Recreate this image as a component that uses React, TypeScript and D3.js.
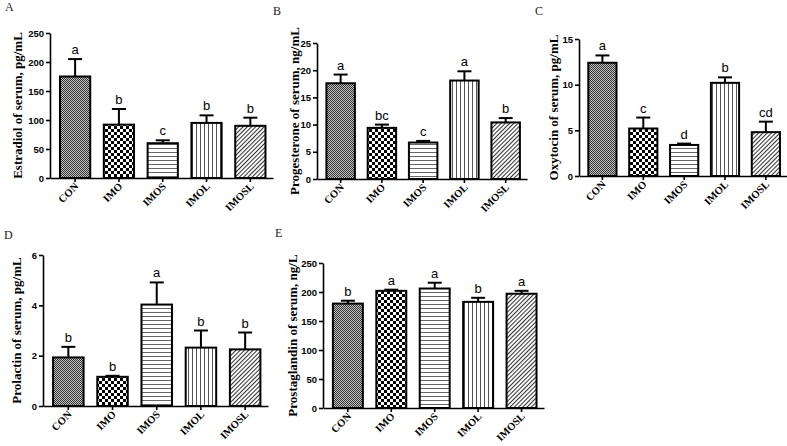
import { useEffect, useRef } from 'react';
import * as d3 from 'd3';

const groups = ['CON', 'IMO', 'IMOS', 'IMOL', 'IMOSL'];

const estradiol = [175, 92, 60, 95, 90];
const estradiolErr = [30, 27, 5, 13, 14];
const estradiolSig = ['a', 'b', 'c', 'b', 'b'];

const progesterone = [17.6, 9.4, 6.7, 18.1, 10.4];
const progesteroneErr = [1.6, 0.6, 0.3, 1.7, 0.8];
const progesteroneSig = ['a', 'bc', 'c', 'a', 'b'];

const oxytocin = [12.4, 5.2, 3.4, 10.2, 4.8];
const oxytocinErr = [0.8, 1.2, 0.15, 0.6, 1.15];
const oxytocinSig = ['a', 'c', 'd', 'b', 'cd'];

const prolactin = [1.93, 1.16, 4.03, 2.32, 2.25];
const prolactinErr = [0.42, 0.04, 0.88, 0.68, 0.67];
const prolactinSig = ['b', 'b', 'a', 'b', 'b'];

const prostaglandin = [180, 202, 206, 183, 197];
const prostaglandinErr = [5, 2, 10, 7, 5];
const prostaglandinSig = ['b', 'a', 'a', 'b', 'a'];

interface Panel {
  letter: string;
  title: string;
  values: number[];
  errs: number[];
  sig: string[];
  yMax: number;
  yStep: number;
  // layout
  x0: number; x1: number; yBottom: number; yTop: number;
  lx: number; ly: number; tx: number;
}

const panels: Panel[] = [
  { letter: 'A', title: 'Estradiol of serum, pg/mL', values: estradiol, errs: estradiolErr, sig: estradiolSig,
    yMax: 250, yStep: 50, x0: 50, x1: 273, yBottom: 178, yTop: 33, lx: 5, ly: 11, tx: 22 },
  { letter: 'B', title: 'Progesterone of serum, ng/mL', values: progesterone, errs: progesteroneErr, sig: progesteroneSig,
    yMax: 25, yStep: 5, x0: 317, x1: 527, yBottom: 179, yTop: 43, lx: 273, ly: 15, tx: 299 },
  { letter: 'C', title: 'Oxytocin of serum, pg/mL', values: oxytocin, errs: oxytocinErr, sig: oxytocinSig,
    yMax: 15, yStep: 5, x0: 579, x1: 787, yBottom: 176, yTop: 39, lx: 535, ly: 15, tx: 558 },
  { letter: 'D', title: 'Prolactin of serum, pg/mL', values: prolactin, errs: prolactinErr, sig: prolactinSig,
    yMax: 6, yStep: 2, x0: 43, x1: 268, yBottom: 406, yTop: 255, lx: 4, ly: 239, tx: 21 },
  { letter: 'E', title: 'Prostaglandin of serum, ng/L', values: prostaglandin, errs: prostaglandinErr, sig: prostaglandinSig,
    yMax: 250, yStep: 50, x0: 323, x1: 544, yBottom: 408, yTop: 263, lx: 275, ly: 237, tx: 297 },
];

const patternIds = ['pat-con', 'pat-imo', 'pat-imos', 'pat-imol', 'pat-imosl'];

export default function App() {
  const svgRef = useRef<SVGSVGElement>(null);

  useEffect(() => {
    if (!svgRef.current) return;
    const svg = d3.select(svgRef.current);
    svg.selectAll('*').remove();

    // fill patterns
    const defs = svg.append('defs');
    const con = defs.append('pattern').attr('id', 'pat-con').attr('patternUnits', 'userSpaceOnUse')
      .attr('width', 2).attr('height', 2);
    con.append('rect').attr('width', 2).attr('height', 2).attr('fill', '#c4c4c4');
    con.append('rect').attr('width', 1).attr('height', 1).attr('fill', '#333');
    con.append('rect').attr('x', 1).attr('y', 1).attr('width', 1).attr('height', 1).attr('fill', '#333');

    const imo = defs.append('pattern').attr('id', 'pat-imo').attr('patternUnits', 'userSpaceOnUse')
      .attr('width', 6).attr('height', 6);
    imo.append('rect').attr('width', 6).attr('height', 6).attr('fill', '#fff');
    imo.append('rect').attr('width', 3).attr('height', 3).attr('fill', '#000');
    imo.append('rect').attr('x', 3).attr('y', 3).attr('width', 3).attr('height', 3).attr('fill', '#000');

    const imos = defs.append('pattern').attr('id', 'pat-imos').attr('patternUnits', 'userSpaceOnUse')
      .attr('width', 4).attr('height', 4);
    imos.append('rect').attr('width', 4).attr('height', 4).attr('fill', '#fff');
    imos.append('line').attr('x1', 0).attr('x2', 4).attr('y1', 0.5).attr('y2', 0.5)
      .attr('stroke', '#666').attr('stroke-width', 1);

    const imol = defs.append('pattern').attr('id', 'pat-imol').attr('patternUnits', 'userSpaceOnUse')
      .attr('width', 4).attr('height', 4);
    imol.append('rect').attr('width', 4).attr('height', 4).attr('fill', '#fff');
    imol.append('line').attr('x1', 0.5).attr('x2', 0.5).attr('y1', 0).attr('y2', 4)
      .attr('stroke', '#555').attr('stroke-width', 1);

    const imosl = defs.append('pattern').attr('id', 'pat-imosl').attr('patternUnits', 'userSpaceOnUse')
      .attr('width', 3).attr('height', 3).attr('patternTransform', 'rotate(45)');
    imosl.append('rect').attr('width', 3).attr('height', 3).attr('fill', '#fff');
    imosl.append('line').attr('x1', 0.5).attr('x2', 0.5).attr('y1', 0).attr('y2', 3)
      .attr('stroke', '#333').attr('stroke-width', 1.1);

    panels.forEach(p => {
      const g = svg.append('g');
      const x = d3.scaleBand<string>().domain(groups).range([p.x0, p.x1])
        .paddingInner(0.31).paddingOuter(0.2).align(0.57);
      const y = d3.scaleLinear().domain([0, p.yMax]).range([p.yBottom, p.yTop]);

      // panel letter
      g.append('text').attr('x', p.lx).attr('y', p.ly)
        .attr('font-family', 'Liberation Serif, serif').attr('font-size', '12px')
        .attr('fill', '#222').text(p.letter);

      // y title
      const cy = (p.yBottom + p.yTop) / 2;
      g.append('text')
        .attr('transform', `translate(${p.tx},${cy}) rotate(-90)`)
        .attr('text-anchor', 'middle')
        .attr('font-family', 'Liberation Serif, serif').attr('font-weight', 'bold')
        .attr('font-size', '13px').attr('fill', '#000')
        .text(p.title);

      // bars
      groups.forEach((c, i) => {
        const bx = x(c)!;
        const bw = x.bandwidth();
        const v = p.values[i];
        const top = y(v) as number;
        const et = y(v + p.errs[i]) as number;
        const cx = bx + bw / 2;

        g.append('line').attr('x1', cx).attr('x2', cx).attr('y1', top).attr('y2', et)
          .attr('stroke', '#000').attr('stroke-width', 2);
        g.append('line').attr('x1', cx - 7).attr('x2', cx + 7).attr('y1', et).attr('y2', et)
          .attr('stroke', '#000').attr('stroke-width', 2);

        g.append('rect').attr('x', bx).attr('y', top).attr('width', bw).attr('height', p.yBottom - top)
          .attr('fill', `url(#${patternIds[i]})`).attr('stroke', '#000').attr('stroke-width', 2);

        g.append('text').attr('x', cx).attr('y', et - 5)
          .attr('text-anchor', 'middle')
          .attr('font-family', 'Liberation Sans, Arial, sans-serif').attr('font-size', '13px')
          .attr('fill', '#000').text(p.sig[i]);
      });

      // y axis
      const yAxis = d3.axisLeft(y).tickValues(d3.range(0, p.yMax + 0.001, p.yStep))
        .tickSize(4).tickSizeOuter(0).tickPadding(2).tickFormat(d3.format('d'));
      const ya = g.append('g').attr('transform', `translate(${p.x0},0)`).call(yAxis);
      ya.select('.domain').attr('stroke', '#000').attr('stroke-width', 1.6);
      ya.selectAll('.tick line').attr('stroke', '#000').attr('stroke-width', 1.6);
      ya.selectAll('.tick text')
        .attr('font-family', 'Liberation Sans, Arial, sans-serif').attr('font-weight', 'bold')
        .attr('font-size', '9.5px').attr('fill', '#000');

      // x axis
      const xAxis = d3.axisBottom(x).tickSize(4).tickSizeOuter(0).tickFormat(() => '');
      const xa = g.append('g').attr('transform', `translate(0,${p.yBottom})`).call(xAxis);
      xa.select('.domain').attr('stroke', '#000').attr('stroke-width', 1.6);
      xa.selectAll('.tick line').attr('stroke', '#000').attr('stroke-width', 1.6);

      groups.forEach(c => {
        const cx = x(c)! + x.bandwidth() / 2;
        g.append('text')
          .attr('transform', `translate(${cx + 4},${p.yBottom + 9}) rotate(-45)`)
          .attr('text-anchor', 'end')
          .attr('font-family', 'Liberation Serif, serif').attr('font-weight', 'bold')
          .attr('font-size', '10.5px').attr('fill', '#000')
          .text(c);
      });
    });
  }, []);

  return (
    <svg ref={svgRef} width={787} height={446}
      style={{ position: 'absolute', left: 0, top: 0, background: '#fff' }} />
  );
}
